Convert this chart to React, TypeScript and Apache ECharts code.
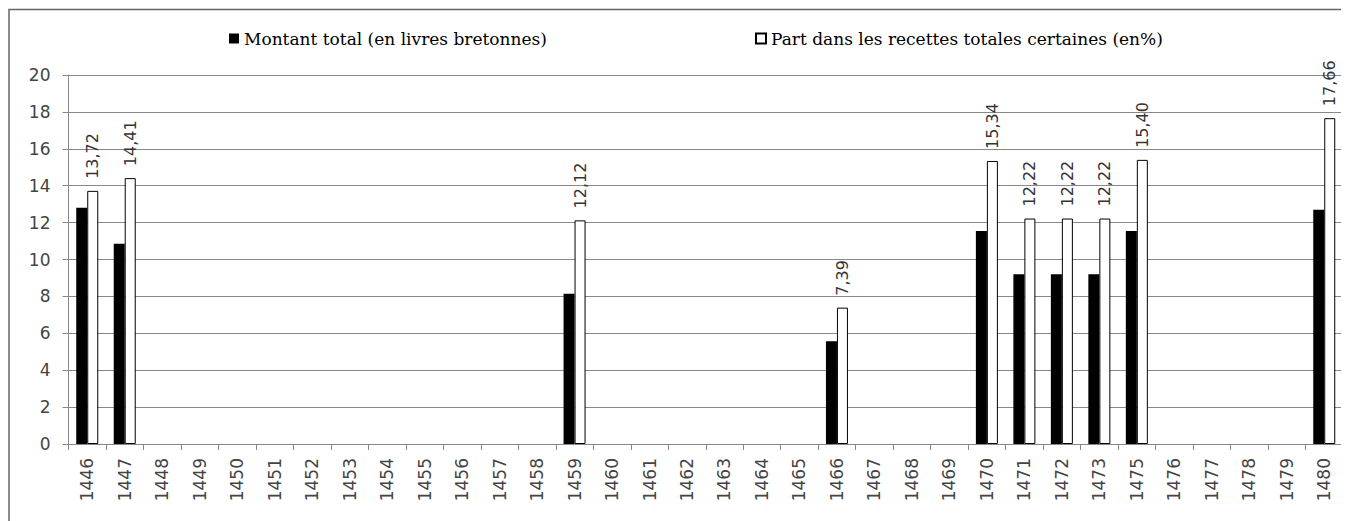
import React, { useEffect, useRef } from "react";
import * as echarts from "echarts";

const years = [
  "1446", "1447", "1448", "1449", "1450", "1451", "1452", "1453", "1454", "1455",
  "1456", "1457", "1458", "1459", "1460", "1461", "1462", "1463", "1464", "1465",
  "1466", "1467", "1468", "1469", "1470", "1471", "1472", "1473", "1475", "1476",
  "1477", "1478", "1479", "1480",
];

const montantTotal = [
  12.8, 10.85, null, null, null, null, null, null, null, null,
  null, null, null, 8.15, null, null, null, null, null, null,
  5.57, null, null, null, 11.55, 9.2, 9.2, 9.2, 11.55, null,
  null, null, null, 12.7,
];

const partRecettes = [
  13.72, 14.41, null, null, null, null, null, null, null, null,
  null, null, null, 12.12, null, null, null, null, null, null,
  7.39, null, null, null, 15.34, 12.22, 12.22, 12.22, 15.4, null,
  null, null, null, 17.66,
];

const seriesNames = [
  "Montant total (en livres bretonnes)",
  "Part dans les recettes totales certaines (en%)",
];

export default function App() {
  const ref = useRef<HTMLDivElement>(null);
  useEffect(() => {
    if (!ref.current) return;
    const chart = echarts.init(ref.current, null, { renderer: "svg" });
    const axisFont = { fontFamily: "DejaVu Sans", fontSize: 17, color: "#444" };
    const legendText = { fontFamily: "DejaVu Serif", fontSize: 17, color: "#000" };
    chart.setOption({
      animation: false,
      backgroundColor: "#fff",
      graphic: [
        {
          type: "rect",
          shape: { x: 1, y: 1.5, width: 1400, height: 600 },
          style: { fill: "none", stroke: "#666", lineWidth: 1.5 },
          silent: true,
        },
      ],
      legend: [
        {
          data: [{ name: seriesNames[0], textStyle: legendText }],
          left: 216,
          top: 17,
          icon: "rect",
          itemWidth: 10,
          itemHeight: 10,
          itemGap: 0,
          textStyle: legendText,
        },
        {
          data: [{ name: seriesNames[1], textStyle: legendText }],
          left: 742,
          top: 17,
          icon: "rect",
          itemWidth: 10,
          itemHeight: 10,
          itemGap: 0,
          textStyle: legendText,
        },
      ],
      grid: { left: 60.5, right: 6, top: 67, bottom: 77, containLabel: false },
      xAxis: {
        type: "category",
        data: years,
        axisLine: { lineStyle: { color: "#888", width: 1 } },
        axisTick: { show: true, length: 6, lineStyle: { color: "#888" }, alignWithLabel: false },
        axisLabel: { ...axisFont, rotate: 90, margin: 14, interval: 0 },
        splitLine: { show: false },
      },
      yAxis: {
        type: "value",
        min: 0,
        max: 20,
        interval: 2,
        axisLine: { show: true, lineStyle: { color: "#888", width: 1 } },
        axisTick: { show: true, length: 6, lineStyle: { color: "#888" } },
        axisLabel: { ...axisFont, margin: 18 },
        splitLine: { lineStyle: { color: "#888", width: 1 } },
      },
      series: [
        {
          name: seriesNames[0],
          type: "bar",
          data: montantTotal,
          barWidth: 11,
          barGap: "0%",
          itemStyle: { color: "#000" },
        },
        {
          name: seriesNames[1],
          type: "bar",
          data: partRecettes,
          barWidth: 11,
          barGap: "0%",
          itemStyle: { color: "#fff", borderColor: "#000", borderWidth: 1 },
          label: {
            show: true,
            position: "top",
            rotate: 90,
            align: "left",
            verticalAlign: "middle",
            distance: 12,
            fontFamily: "DejaVu Sans",
            fontSize: 16,
            color: "#333",
            formatter: (p: any) => (p.value == null ? "" : Number(p.value).toFixed(2).replace(".", ",")),
          },
        },
      ],
    });
    return () => chart.dispose();
  }, []);
  return <div ref={ref} style={{ width: 1341, height: 513 }} />;
}
